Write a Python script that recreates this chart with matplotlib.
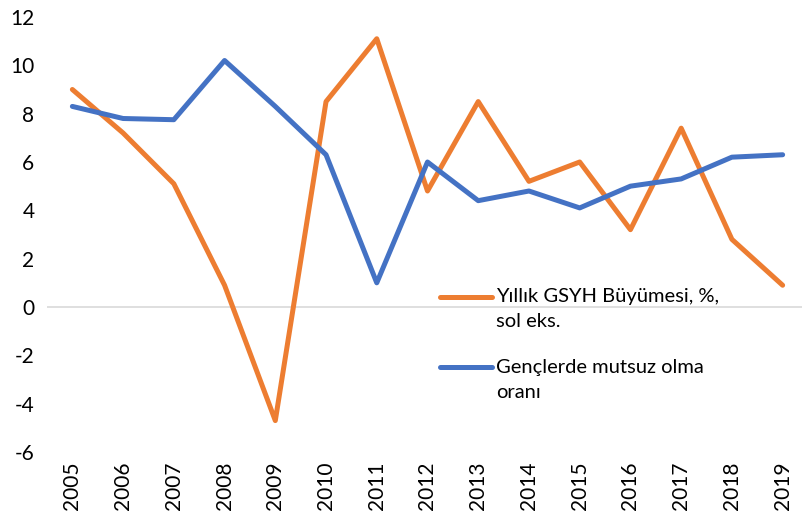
import matplotlib
matplotlib.use("Agg")
import matplotlib.pyplot as plt
from matplotlib.offsetbox import HPacker

plt.rcParams['font.family'] = ['Lato', 'DejaVu Sans']
plt.rcParams['axes.unicode_minus'] = False

years = [str(y) for y in range(2005, 2020)]
gdp_growth = [9.0, 7.2, 5.1, 0.9, -4.7, 8.5, 11.1, 4.8, 8.5, 5.2, 6.0, 3.2, 7.4, 2.8, 0.9]
neet_rate = [8.3, 7.8, 7.75, 10.2, 8.3, 6.3, 1.0, 6.0, 4.4, 4.8, 4.1, 5.0, 5.3, 6.2, 6.3]
labels = ["Yıllık GSYH Büyümesi, %,\nsol eks.", "Gençlerde mutsuz olma\noranı"]

fig = plt.figure(figsize=(8.03, 5.14), dpi=100)
ax = fig.add_axes([47/803, (514-452)/514, 761/803, (452-17)/514])

x = list(range(len(years)))
l1, = ax.plot(x, gdp_growth, color='#ED7D31', lw=3.6, solid_capstyle='round', solid_joinstyle='round', label=labels[0], clip_on=False)
l2, = ax.plot(x, neet_rate, color='#4472C4', lw=3.6, solid_capstyle='round', solid_joinstyle='round', label=labels[1], clip_on=False)

ax.axhline(0, color='#D9D9D9', lw=1.2, zorder=0)
ax.set_xlim(-0.5, 14.5)
ax.set_ylim(-6, 12)
ax.set_yticks(range(-6, 13, 2))
ax.set_xticks(x)
ax.set_xticklabels(years, rotation=90)
ax.tick_params(axis='both', length=0, labelsize=15, colors='black')
ax.tick_params(axis='y', pad=9)
ax.tick_params(axis='x', pad=7)
for s in ax.spines.values():
    s.set_visible(False)

leg = ax.legend(loc='upper left', bbox_to_anchor=(440/803, (514-288)/514), bbox_transform=fig.transFigure,
                frameon=False, fontsize=14.5, handlelength=2.6, handleheight=1.25, handletextpad=0.2,
                labelspacing=1.4, borderpad=0, borderaxespad=0)
for t in leg.get_texts():
    t.set_linespacing(1.6)

def set_top(box):
    if isinstance(box, HPacker):
        box.align = 'top'
    for c in getattr(box, '_children', []):
        set_top(c)
set_top(leg._legend_handle_box)

fig.savefig('out.png', dpi=100)
